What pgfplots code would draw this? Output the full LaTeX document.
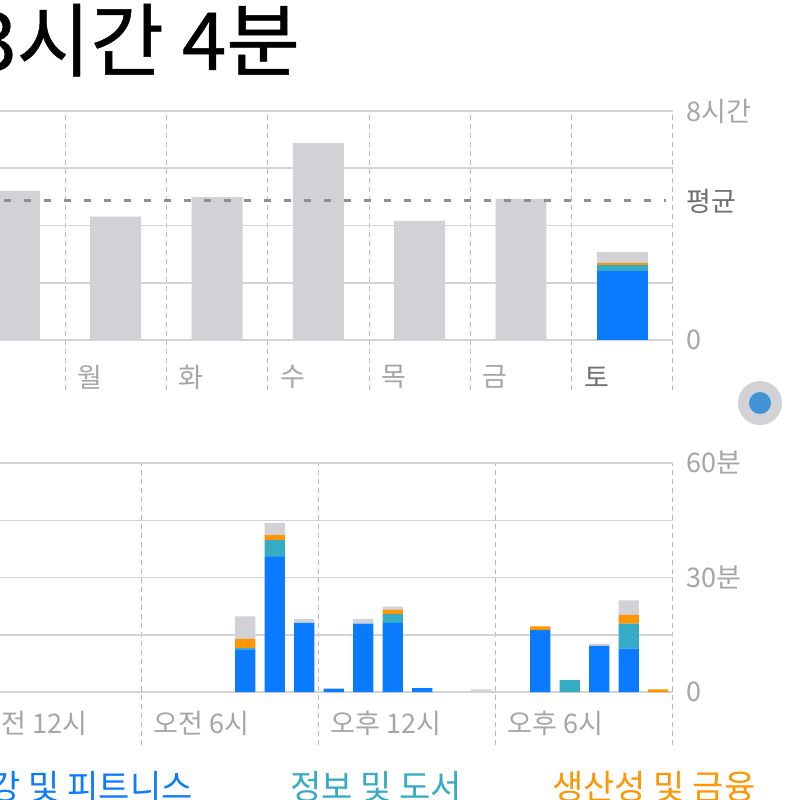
\documentclass[border=0pt]{standalone}
\usepackage{fontspec}
\setmainfont{Noto Sans CJK KR}
\newfontfamily\titlefont[FakeBold=0.6]{Noto Sans CJK KR}
\usepackage{pgfplots}
\usepackage{pgfplotstable}
\pgfplotsset{compat=1.18}
\definecolor{iosblue}{HTML}{0A7AFF}
\definecolor{iosteal}{HTML}{35ABC5}
\definecolor{iosorange}{HTML}{FF9500}
\definecolor{iosgray}{HTML}{D1D1D6}
\definecolor{gridc}{HTML}{D3D3D7}
\definecolor{vgridc}{HTML}{B8B8BD}
\definecolor{lblgray}{HTML}{A5A5AA}
\definecolor{darkgray}{HTML}{707075}
\definecolor{avggray}{HTML}{8E8E93}
\definecolor{dotblue}{HTML}{4094D6}

\pgfplotstableread{
x    blue  teal  orange gray
0.5  0     0     0      5.21
1.5  0     0     0      4.31
2.5  0     0     0      4.99
3.5  0     0     0      6.88
4.5  0     0     0      4.16
5.5  0     0     0      4.93
6.5  2.42  0.21  0.06   0.38
}\daydata

\pgfplotstableread{
x     blue  teal  orange gray
0.5   0     0     0      0
1.5   0     0     0      0
2.5   0     0     0      0
3.5   0     0     0      0
4.5   0     0     0      0
5.5   0     0     0      0
6.5   0     0     0      0
7.5   0     0     0      0
8.5   0     0     0      0
9.5   11.2  0.3   2.4    5.9
10.5  35.4  4.4   1.3    3.2
11.5  18.1  0     0      1.0
12.5  0.9   0     0      0
13.5  17.9  0     0      1.2
14.5  18.1  2.4   1.0    0.9
15.5  1.0   0     0      0
16.5  0     0     0      0
17.5  0     0     0      0.7
18.5  0     0     0      0
19.5  16.2  0     1.0    0
20.5  0     3.1   0      0
21.5  12.1  0     0      0.6
22.5  11.4  6.5   2.3    3.8
23.5  0     0     0.7    0
}\hourdata

\pgfplotsset{
  topgeom/.style={
    at={(-18.15pt,204.95pt)}, anchor=south west, scale only axis,
    width=354.65pt, height=139.55pt,
    xmin=0, xmax=7, ymin=-1.75, ymax=8,
    axis line style={draw=none}, tick style={draw=none},
    xticklabels={}, yticklabels={}, clip=false,
  },
}
\tikzset{lbl/.style={anchor=west, inner sep=0, font=\fontsize{13.5}{15}\selectfont}}

\begin{document}
\begin{tikzpicture}
\useasboundingbox (0pt,0pt) rectangle (400pt,400pt);
\begin{scope}
\clip (0pt,0pt) rectangle (400pt,400pt);
\fill[white] (0pt,0pt) rectangle (400pt,400pt);

% title
\node[anchor=base west, inner sep=0, font=\titlefont\fontsize{40}{42}\selectfont] at (-14pt,365pt) {3시간 4분};

% top chart: bars
\begin{axis}[topgeom,
  xtick={0,1,2,3,4,5,6,7}, ytick={0,2,4,6,8},
  xmajorgrids, ymajorgrids,
  x grid style={vgridc, line width=0.5pt, dash pattern=on 2.5pt off 2pt},
  y grid style={gridc, line width=0.75pt},
  ybar stacked, bar width=0.503,
]
\addplot[fill=iosblue, draw=none] table[x=x, y=blue] {\daydata};
\addplot[fill=iosteal, draw=none] table[x=x, y=teal] {\daydata};
\addplot[fill=iosorange, draw=none] table[x=x, y=orange] {\daydata};
\addplot[fill=iosgray, draw=none] table[x=x, y=gray] {\daydata};
\end{axis}

% top chart: average line and labels
\begin{axis}[topgeom, xtick=\empty, ytick=\empty]
\addplot[avggray, line width=1.6pt, dash pattern=on 3.5pt off 6.5pt] coordinates {(0,4.86) (6.93,4.86)};
\node[lbl, text=darkgray, xshift=6.5pt] at (axis cs:7,4.86) {평균};
\node[lbl, text=lblgray, xshift=6.5pt] at (axis cs:7,8) {8시간};
\node[lbl, text=lblgray, xshift=6.5pt] at (axis cs:7,0) {0};
\node[lbl, text=lblgray] at (axis cs:0.12,-1.29) {일};
\node[lbl, text=lblgray] at (axis cs:1.12,-1.29) {월};
\node[lbl, text=lblgray] at (axis cs:2.12,-1.29) {화};
\node[lbl, text=lblgray] at (axis cs:3.12,-1.29) {수};
\node[lbl, text=lblgray] at (axis cs:4.12,-1.29) {목};
\node[lbl, text=lblgray] at (axis cs:5.12,-1.29) {금};
\node[lbl, text=darkgray] at (axis cs:6.12,-1.29) {토};
\end{axis}

% bottom chart
\begin{axis}[
  at={(-17.5pt,27.45pt)}, anchor=south west, scale only axis,
  width=354pt, height=141.05pt,
  xmin=0, xmax=24, ymin=-13.9, ymax=60,
  axis line style={draw=none}, tick style={draw=none},
  xticklabels={}, yticklabels={}, clip=false,
  xtick={0,6,12,18,24}, ytick={0,15,30,45,60},
  xmajorgrids, ymajorgrids,
  x grid style={vgridc, line width=0.5pt, dash pattern=on 2.5pt off 2pt},
  y grid style={gridc, line width=0.75pt},
  ybar stacked, bar width=0.68,
]
\addplot[fill=iosblue, draw=none] table[x=x, y=blue] {\hourdata};
\addplot[fill=iosteal, draw=none] table[x=x, y=teal] {\hourdata};
\addplot[fill=iosorange, draw=none] table[x=x, y=orange] {\hourdata};
\addplot[fill=iosgray, draw=none] table[x=x, y=gray] {\hourdata};
\node[lbl, text=lblgray, xshift=6.5pt] at (axis cs:24,60) {60분};
\node[lbl, text=lblgray, xshift=6.5pt] at (axis cs:24,30) {30분};
\node[lbl, text=lblgray, xshift=6.5pt] at (axis cs:24,0) {0};
\node[lbl, text=lblgray] at (axis cs:0.37,-8.1) {오전 12시};
\node[lbl, text=lblgray] at (axis cs:6.37,-8.1) {오전 6시};
\node[lbl, text=lblgray] at (axis cs:12.37,-8.1) {오후 12시};
\node[lbl, text=lblgray] at (axis cs:18.37,-8.1) {오후 6시};
\end{axis}

% legend (categories)
\node[anchor=base west, inner sep=0, text=iosblue, font=\fontsize{17}{19}\selectfont] at (-21pt,0.5pt) {건강 및 피트니스};
\node[anchor=base west, inner sep=0, text=iosteal, font=\fontsize{17}{19}\selectfont] at (145pt,0.5pt) {정보 및 도서};
\node[anchor=base west, inner sep=0, text=iosorange, font=\fontsize{17}{19}\selectfont] at (276pt,0.5pt) {생산성 및 금융};

% page indicator dot
\fill[iosgray] (380pt,198.5pt) circle (11pt);
\fill[dotblue] (380pt,198.5pt) circle (5.5pt);
\end{scope}
\end{tikzpicture}
\end{document}
